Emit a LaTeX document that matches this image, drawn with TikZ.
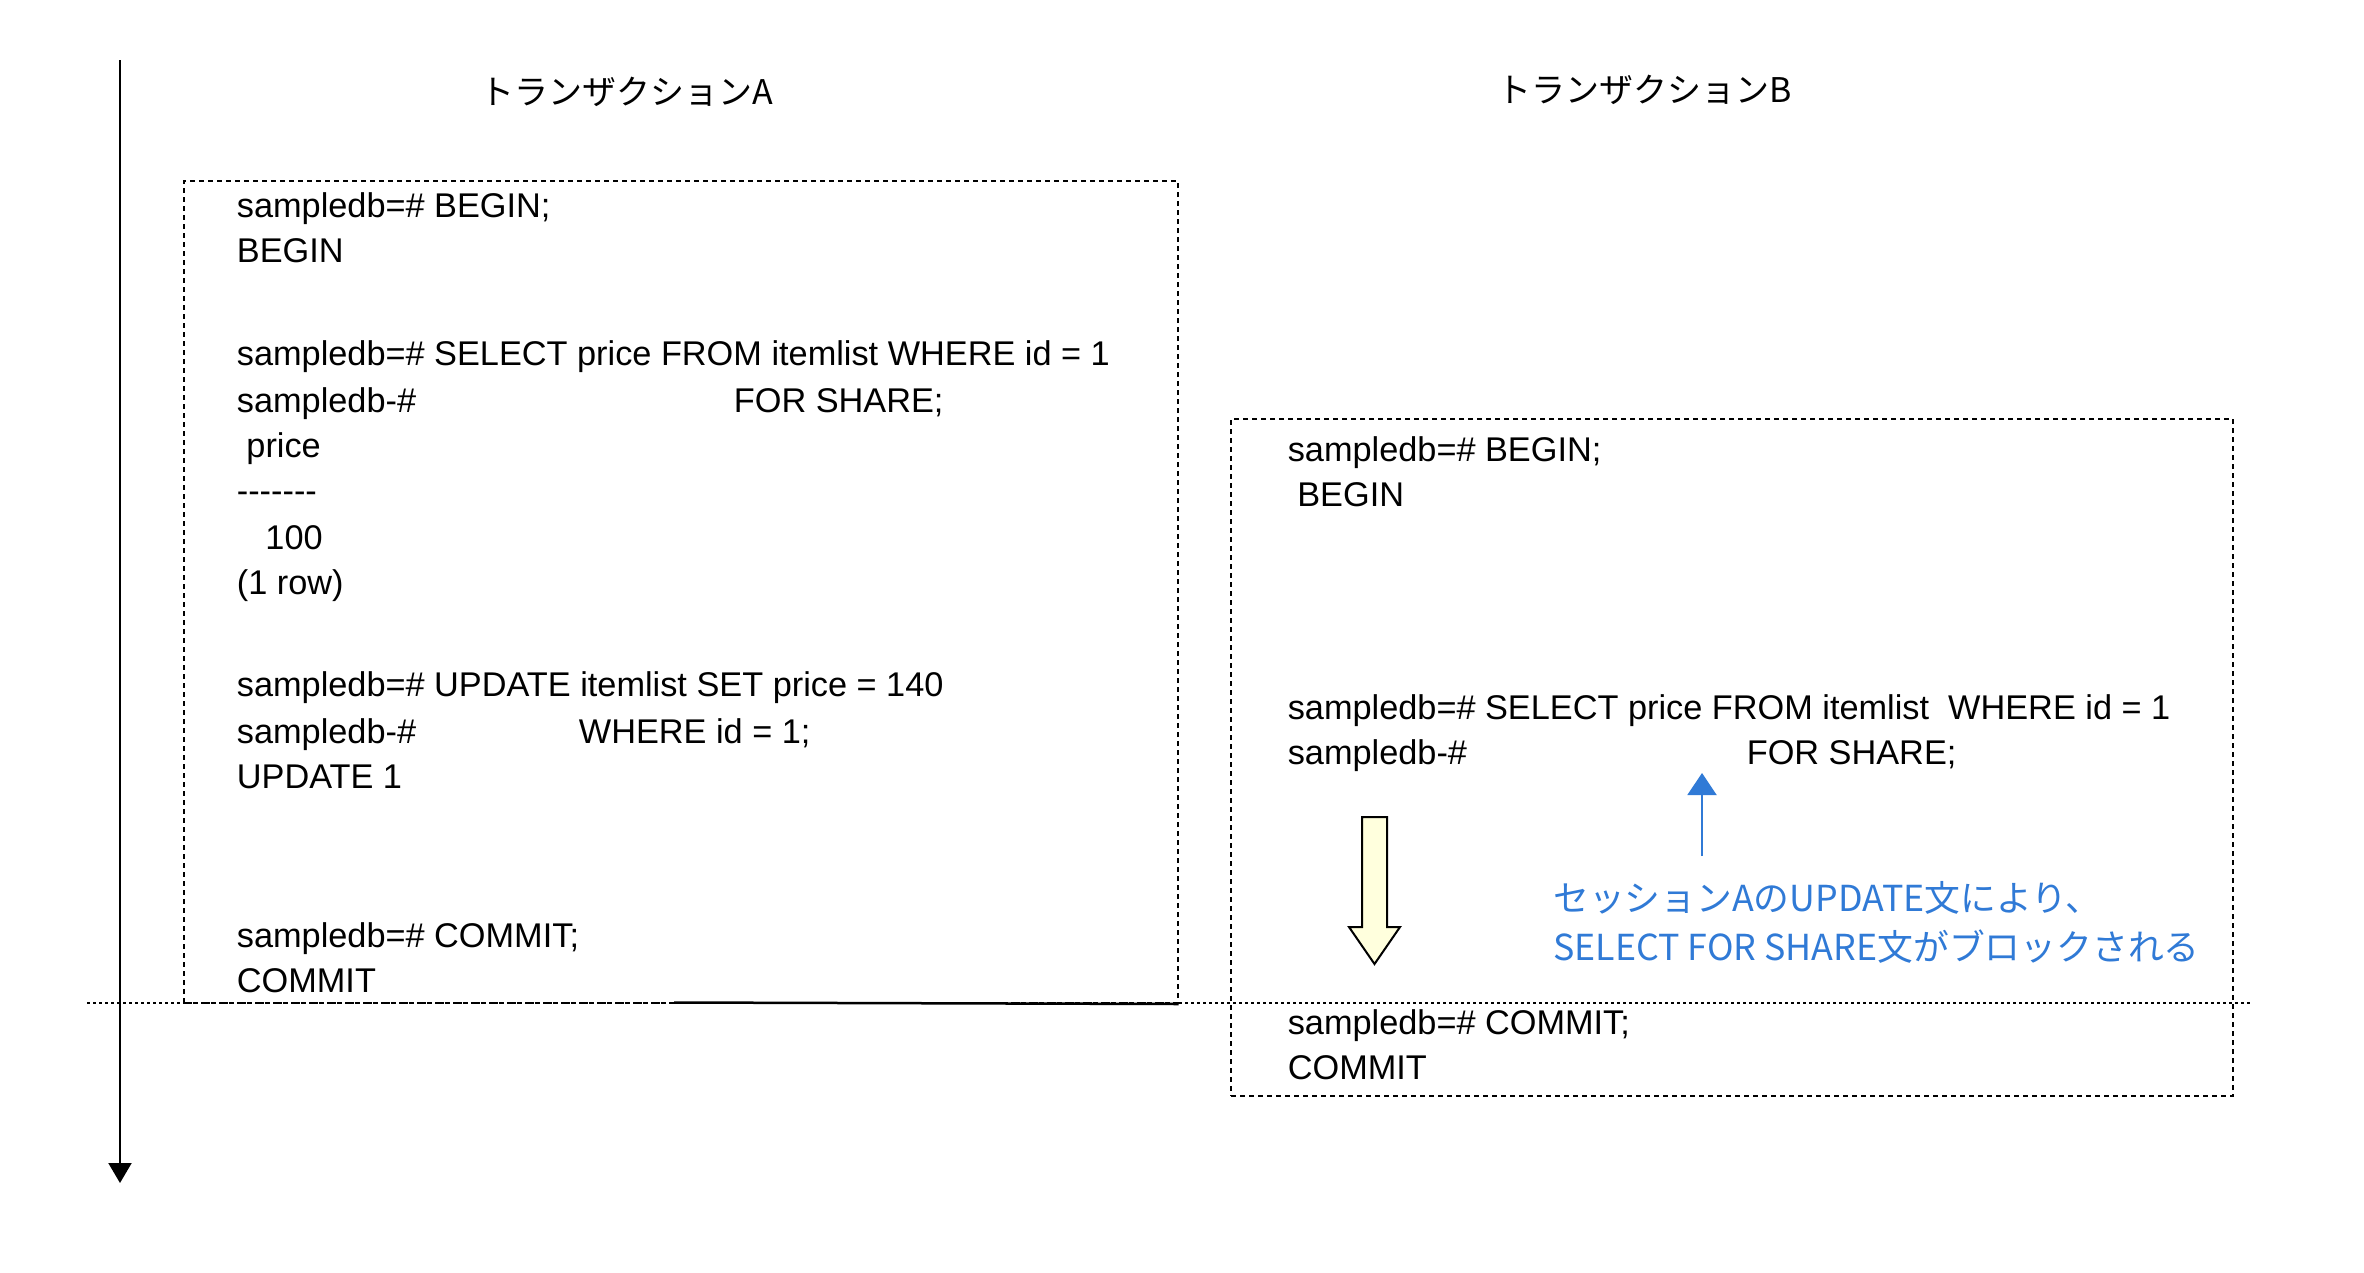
\documentclass[tikz,border=0pt]{standalone}
\usepackage{fontspec}
\setmainfont{Liberation Sans}
\newfontfamily\jpfont{Noto Sans CJK JP}
\usetikzlibrary{arrows.meta,positioning}
\definecolor{noteblue}{RGB}{48,122,214}
\definecolor{arrowyellow}{RGB}{255,255,221}

\begin{document}
\begin{tikzpicture}[x=1pt, y=-1pt,
    sql/.style={anchor=base west, inner sep=0pt, font=\fontsize{34.3}{46}\selectfont},
    head/.style={inner sep=0pt, font=\jpfont\fontsize{34}{46}\selectfont},
    note/.style={anchor=west, inner sep=0pt, text=noteblue, font=\jpfont\fontsize{35.8}{46}\selectfont},
    tx/.style={draw, anchor=north west, line width=2pt, dash pattern=on 5pt off 4pt, inner sep=0pt},
    arr/.style={-{Triangle[length=20pt, width=23pt]}, line width=2pt, black},
]
\useasboundingbox (0,0) rectangle (2364,1272);

\node[head] (hA) at (627,92) {トランザクションA};
\node[head] (hB) at (1645,90) {トランザクションB};

\node[tx, minimum width=994pt, minimum height=822pt] (boxA) at (182.5,180) {};
\node[tx, minimum width=1002pt, minimum height=677pt] (boxB) at (1230,418) {};

\node[sql] (a1) at (236.7,217) {sampledb=\# BEGIN;};
\node[sql] (a2) at (236.7,262) {BEGIN};
\node[sql] (a3) at (236.7,365) {sampledb=\# SELECT price FROM itemlist WHERE id = 1};
\node[sql] (a4) at (236.7,412) {\makebox[497pt][l]{sampledb-\#}FOR SHARE;};
\node[sql] (a5) at (236.7,457) {\ price};
\node[sql] (a6) at (236.7,502) {-{}-{}-{}-{}-{}-{}-};
\node[sql] (a7) at (236.7,549) {\ \ \ 100};
\node[sql] (a8) at (236.7,594) {(1 row)};
\node[sql] (a9) at (236.7,696) {sampledb=\# UPDATE itemlist SET price = 140};
\node[sql] (a10) at (236.7,743) {\makebox[342pt][l]{sampledb-\#}WHERE id = 1;};
\node[sql] (a11) at (236.7,788) {UPDATE 1};
\node[sql] (a12) at (236.7,947) {sampledb=\# COMMIT;};
\node[sql] (a13) at (236.7,992) {COMMIT};

\node[sql] (b1) at (1287.6,461) {sampledb=\# BEGIN;};
\node[sql] (b2) at (1287.6,506) {\ BEGIN};
\node[sql] (b3) at (1287.6,719) {sampledb=\# SELECT price FROM itemlist\ \ WHERE id = 1};
\node[sql] (b4) at (1287.6,764) {\makebox[459pt][l]{sampledb-\#}FOR SHARE;};
\node[sql] (b5) at (1287.6,1034) {sampledb=\# COMMIT;};
\node[sql] (b6) at (1287.6,1079) {COMMIT};

\node[note] (n1) at (1553,898) {セッションAのUPDATE文により、};
\node[note] (n2) at (1553,947) {SELECT FOR SHARE文がブロックされる};

\coordinate (tStart) at (120,60);
\coordinate (tEnd) at (120,1183);
\draw[arr] (tStart) -- (tEnd);

\coordinate (cutL) at (87,1002.5);
\coordinate (cutR) at (2251,1002.5);
\coordinate (cutM) at (674,1002.5);
\draw[line width=2pt, dash pattern=on 3pt off 3pt] (cutL) -- (cutR);
\draw[line width=2.5pt] (cutM) -- (boxA.south east);

\draw[fill=arrowyellow, line width=2pt, line join=miter]
    (1362,817) -- (1387,817) -- (1387,927) -- (1400,927) -- (1374.5,964)
    -- (1349,927) -- (1362,927) -- cycle;

\coordinate (blkTail) at (1702,856);
\coordinate (blkTip) at (1702,773);
\draw[-{Triangle[length=22pt, width=29pt]}, line width=2pt, noteblue] (blkTail) -- (blkTip);
\end{tikzpicture}
\end{document}
